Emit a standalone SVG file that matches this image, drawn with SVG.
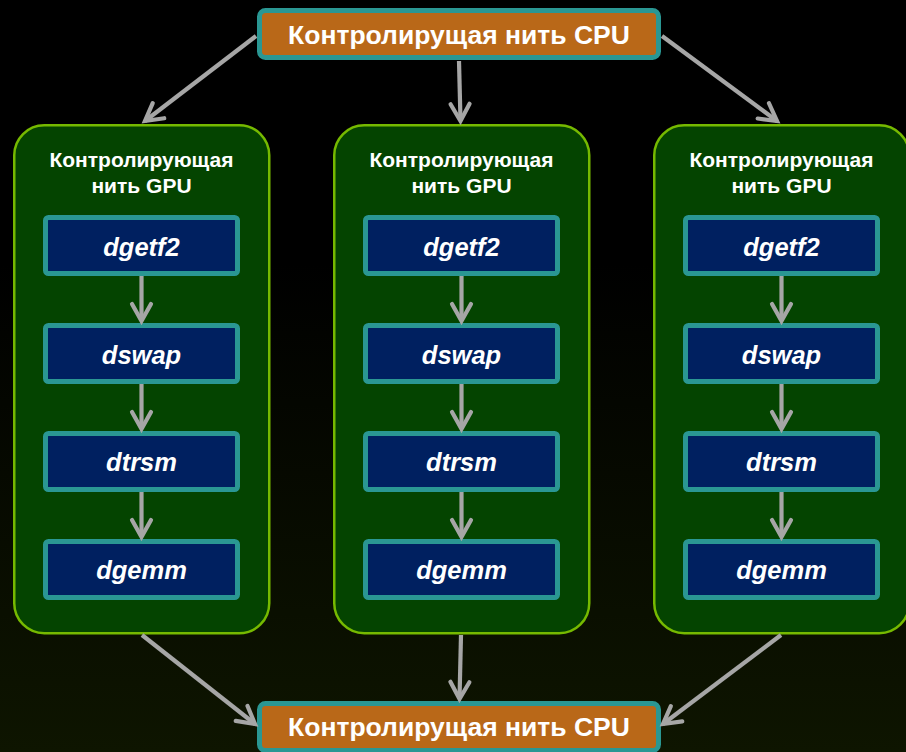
<svg xmlns="http://www.w3.org/2000/svg" width="906" height="752" viewBox="0 0 906 752">
<defs>
<linearGradient id="bg" x1="0" y1="0" x2="0" y2="1">
<stop offset="0" stop-color="#000000"/>
<stop offset="0.35" stop-color="#000000"/>
<stop offset="1" stop-color="#0e1500"/>
</linearGradient>
<marker id="arr" markerUnits="userSpaceOnUse" markerWidth="30" markerHeight="30" viewBox="-20 -15 24 30" refX="0" refY="0" orient="auto">
<path d="M-17,-9.5 L0,0 L-17,9.5" fill="none" stroke="#a6a6a6" stroke-width="4.2" stroke-linecap="round" stroke-linejoin="miter"/>
</marker>
<style>
.cpu rect{fill:#b96818;stroke:#2a9793;stroke-width:5}
.cpu text{font-family:"Liberation Sans",Arial,sans-serif;font-weight:bold;font-size:26.5px;fill:#fff;text-anchor:middle}
.panel rect.p{fill:#044400;stroke:#76b900;stroke-width:2.5}
.panel text.t{font-family:"Liberation Sans",Arial,sans-serif;font-weight:bold;font-size:21px;fill:#fff;text-anchor:middle}
.box rect{fill:#002060;stroke:#2a9793;stroke-width:5}
.box text{font-family:"Liberation Sans",Arial,sans-serif;font-weight:bold;font-style:italic;font-size:25.5px;fill:#fff;text-anchor:middle}
.conn line{stroke:#a6a6a6;stroke-width:4.2;marker-end:url(#arr)}
</style>
</defs>
<rect width="906" height="752" fill="url(#bg)"/>

<g id="cpu-top" class="cpu">
<rect x="259.5" y="10.5" width="399" height="47" rx="6"/>
<text x="459" y="44">Контролирущая нить CPU</text>
</g>

<g id="panel-1" class="panel">
<rect class="p" x="14.25" y="125.25" width="255" height="508" rx="30"/>
<text class="t" x="141.5" y="167">Контролирующая</text>
<text class="t" x="141.5" y="193">нить GPU</text>
</g>
<g id="panel-2" class="panel">
<rect class="p" x="334.25" y="125.25" width="255" height="508" rx="30"/>
<text class="t" x="461.5" y="167">Контролирующая</text>
<text class="t" x="461.5" y="193">нить GPU</text>
</g>
<g id="panel-3" class="panel">
<rect class="p" x="654.25" y="125.25" width="255" height="508" rx="30"/>
<text class="t" x="781.5" y="167">Контролирующая</text>
<text class="t" x="781.5" y="193">нить GPU</text>
</g>

<g id="p1-dgetf2" class="box"><rect x="45.5" y="217.5" width="192" height="56" rx="3"/><text x="141.5" y="256">dgetf2</text></g>
<g id="p1-dswap" class="box"><rect x="45.5" y="325.5" width="192" height="56" rx="3"/><text x="141.5" y="364">dswap</text></g>
<g id="p1-dtrsm" class="box"><rect x="45.5" y="433.5" width="192" height="56" rx="3"/><text x="141.5" y="471">dtrsm</text></g>
<g id="p1-dgemm" class="box"><rect x="45.5" y="541.5" width="192" height="56" rx="3"/><text x="141.5" y="579">dgemm</text></g>

<g id="p2-dgetf2" class="box"><rect x="365.5" y="217.5" width="192" height="56" rx="3"/><text x="461.5" y="256">dgetf2</text></g>
<g id="p2-dswap" class="box"><rect x="365.5" y="325.5" width="192" height="56" rx="3"/><text x="461.5" y="364">dswap</text></g>
<g id="p2-dtrsm" class="box"><rect x="365.5" y="433.5" width="192" height="56" rx="3"/><text x="461.5" y="471">dtrsm</text></g>
<g id="p2-dgemm" class="box"><rect x="365.5" y="541.5" width="192" height="56" rx="3"/><text x="461.5" y="579">dgemm</text></g>

<g id="p3-dgetf2" class="box"><rect x="685.5" y="217.5" width="192" height="56" rx="3"/><text x="781.5" y="256">dgetf2</text></g>
<g id="p3-dswap" class="box"><rect x="685.5" y="325.5" width="192" height="56" rx="3"/><text x="781.5" y="364">dswap</text></g>
<g id="p3-dtrsm" class="box"><rect x="685.5" y="433.5" width="192" height="56" rx="3"/><text x="781.5" y="471">dtrsm</text></g>
<g id="p3-dgemm" class="box"><rect x="685.5" y="541.5" width="192" height="56" rx="3"/><text x="781.5" y="579">dgemm</text></g>

<g id="cpu-bottom" class="cpu">
<rect x="259.5" y="703.5" width="399" height="47" rx="6"/>
<text x="459" y="736">Контролирущая нить CPU</text>
</g>

<g id="connectors" class="conn">
<line x1="256" y1="36" x2="145" y2="121"/>
<line x1="459" y1="61" x2="460.5" y2="121"/>
<line x1="662" y1="36" x2="777" y2="121"/>

<line x1="141.5" y1="276" x2="141.5" y2="321"/>
<line x1="141.5" y1="384" x2="141.5" y2="429"/>
<line x1="141.5" y1="492" x2="141.5" y2="537"/>
<line x1="461.5" y1="276" x2="461.5" y2="321"/>
<line x1="461.5" y1="384" x2="461.5" y2="429"/>
<line x1="461.5" y1="492" x2="461.5" y2="537"/>
<line x1="781.5" y1="276" x2="781.5" y2="321"/>
<line x1="781.5" y1="384" x2="781.5" y2="429"/>
<line x1="781.5" y1="492" x2="781.5" y2="537"/>

<line x1="142" y1="635" x2="255" y2="724"/>
<line x1="461" y1="635" x2="459.5" y2="699"/>
<line x1="781" y1="635" x2="663" y2="724"/>
</g>
</svg>
